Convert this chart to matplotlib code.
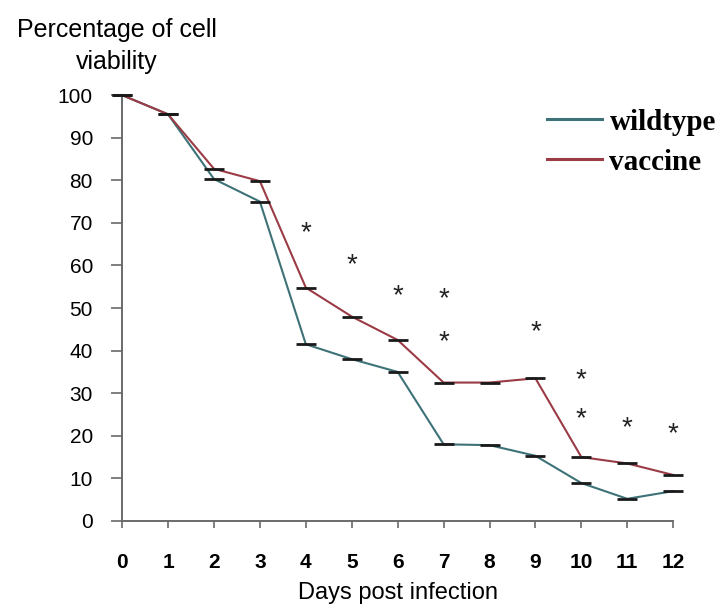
import matplotlib
matplotlib.use("Agg")
import matplotlib.pyplot as plt
from matplotlib.lines import Line2D

# ── Data ─────────────────────────────────────────────────────────────────────
days = [0, 1, 2, 3, 4, 5, 6, 7, 8, 9, 10, 11, 12]
wildtype = [100, 95.5, 80.3, 75.0, 41.5, 38.0, 35.0, 18.0, 17.8, 15.3, 8.9, 5.2, 7.0]
vaccine = [100, 95.5, 82.7, 79.8, 54.8, 48.0, 42.5, 32.5, 32.5, 33.5, 15.0, 13.5, 10.8]

# significance markers (day, height)
star_x = [4, 5, 6, 7, 7, 9, 10, 10, 11, 12]
star_y = [67.5, 60.0, 52.7, 52.0, 41.9, 44.3, 33.0, 23.9, 21.7, 20.3]

C_WT = "#3d7278"
C_VAC = "#9b3b45"
AX_GREY = "#6a6a6a"

plt.rcParams["font.family"] = ["Liberation Sans", "DejaVu Sans"]

fig = plt.figure(figsize=(7.27, 6.10), dpi=100)
ax = fig.add_axes([0.168, 0.146, 0.758, 0.698])

for vals, col in [(wildtype, C_WT), (vaccine, C_VAC)]:
    ax.plot(days, vals, color=col, linewidth=1.5, clip_on=False, zorder=3)
    # short dark caps (SE bars) at each point
    ax.plot(days, vals, linestyle="none", marker="_", markersize=14,
            markeredgewidth=2.0, markeredgecolor="#1a1a1a", clip_on=False, zorder=4)

for x, y in zip(star_x, star_y):
    ax.text(x, y, "*", ha="center", va="center", fontsize=20, color="#222222")

ax.set_xlim(0, 12)
ax.set_ylim(0, 100)
ax.set_xticks(days)
ax.set_yticks(range(0, 101, 10))
ax.spines[["top", "right"]].set_visible(False)
for s in ["left", "bottom"]:
    ax.spines[s].set_color(AX_GREY)
    ax.spines[s].set_linewidth(1.4)
ax.tick_params(axis="y", direction="out", length=8, width=1.2, color=AX_GREY,
               labelsize=15, pad=13)
ax.tick_params(axis="x", direction="out", length=5, width=1.2, color=AX_GREY,
               labelsize=15, pad=18)
for t in ax.get_xticklabels():
    t.set_fontweight("bold")

ax.set_xlabel("Days post infection", fontsize=17, labelpad=7)
fig.text(0.161, 0.925, "Percentage of cell\nviability", ha="center", va="center",
         fontsize=18, linespacing=1.4)

handles = [Line2D([], [], color=C_WT, linewidth=2.2),
           Line2D([], [], color=C_VAC, linewidth=2.2)]
fig.legend(handles, ["wildtype", "vaccine"], loc="upper left",
           bbox_to_anchor=(0.752, 0.822), frameon=False, borderpad=0,
           borderaxespad=0, handlelength=1.9, handletextpad=0.25,
           labelspacing=0.45,
           prop={"family": "Liberation Serif", "weight": "bold", "size": 21})

fig.savefig("out.png", dpi=100)
